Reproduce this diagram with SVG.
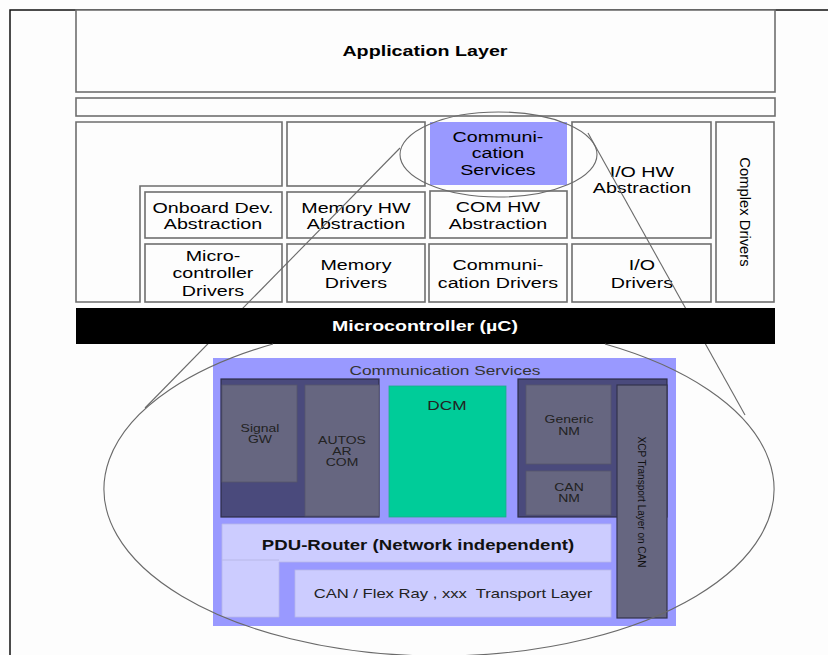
<svg xmlns="http://www.w3.org/2000/svg" width="828" height="655" viewBox="0 0 828 655">
<style>
text{font-family:"Liberation Sans",Arial,sans-serif;text-anchor:middle}
.sx{transform-box:fill-box;transform-origin:center;transform:scaleX(1.33)}
.box{fill:#fdfdfd;stroke:#6e6e6e;stroke-width:1.6}
.t14{font-size:14.8px;fill:#000}
.dark{fill:#4a4a7c;stroke:#2e2e48;stroke-width:1.2}
.gray{fill:#666680;stroke:#55556a;stroke-width:0.8}
.lav{fill:#ccccff;stroke:#b8b8e8;stroke-width:0.8}
.it{fill:#222;font-size:10.5px}
.thin{fill:none;stroke:#6a6a6a;stroke-width:1.1}
</style>
<rect width="828" height="655" fill="#fdfdfd"/>
<path d="M10,655 V10 H828" fill="none" stroke="#111" stroke-width="1.5"/>

<g id="app"><rect class="box" x="76" y="10" width="699" height="82"/><text class="t14 sx" x="425" y="56" font-weight="bold" font-size="16">Application Layer</text></g>
<g id="rte"><rect class="box" x="76" y="98" width="699" height="18"/></g>
<g id="services"><path class="box" d="M76,122 H282 V186 H140 V302 H76 Z"/></g>
<g id="memservices"><rect class="box" x="287" y="122" width="138" height="64"/></g>
<g id="comservices"><rect x="430" y="122" width="137" height="63" fill="#9999ff"/>
<text class="t14 sx" x="498" y="142">Communi-</text><text class="t14 sx" x="498" y="158">cation</text><text class="t14 sx" x="498" y="175">Services</text></g>
<g id="iohw"><rect class="box" x="572" y="122" width="139" height="116"/><text class="t14 sx" x="642" y="177">I/O HW</text><text class="t14 sx" x="642" y="193">Abstraction</text></g>
<g id="complex"><rect class="box" x="716" y="122" width="58" height="180"/><text class="t14" font-size="14" transform="translate(740,212) rotate(90)">Complex Drivers</text></g>
<g id="onboard"><rect class="box" x="145" y="192" width="137" height="46"/><text class="t14 sx" x="213" y="213">Onboard Dev.</text><text class="t14 sx" x="213" y="229">Abstraction</text></g>
<g id="memhw"><rect class="box" x="287" y="192" width="138" height="46"/><text class="t14 sx" x="356" y="213">Memory HW</text><text class="t14 sx" x="356" y="229">Abstraction</text></g>
<g id="comhw"><rect class="box" x="430" y="191" width="137" height="47"/><text class="t14 sx" x="498" y="212">COM HW</text><text class="t14 sx" x="498" y="229">Abstraction</text></g>
<g id="mcudrv"><rect class="box" x="145" y="244" width="137" height="58"/><text class="t14 sx" x="213" y="261">Micro-</text><text class="t14 sx" x="213" y="278">controller</text><text class="t14 sx" x="213" y="296">Drivers</text></g>
<g id="memdrv"><rect class="box" x="287" y="244" width="138" height="58"/><text class="t14 sx" x="356" y="270">Memory</text><text class="t14 sx" x="356" y="288">Drivers</text></g>
<g id="comdrv"><rect class="box" x="429" y="244" width="138" height="58"/><text class="t14 sx" x="498" y="270">Communi-</text><text class="t14 sx" x="498" y="288">cation Drivers</text></g>
<g id="iodrv"><rect class="box" x="572" y="244" width="139" height="58"/><text class="t14 sx" x="642" y="270">I/O</text><text class="t14 sx" x="642" y="288">Drivers</text></g>

<g id="connectors">
<ellipse class="thin" cx="498.5" cy="154.5" rx="98.5" ry="42.5"/>
<line class="thin" x1="400" y1="148" x2="145" y2="408"/>
<line class="thin" x1="588" y1="133" x2="745" y2="415"/>
</g>

<g id="mcu"><rect x="76" y="308" width="699" height="36" fill="#000"/><text class="sx" x="425" y="331" font-size="14.7" font-weight="bold" fill="#fff">Microcontroller (µC)</text></g>

<g id="comstack">
<rect x="213" y="358" width="463" height="268" fill="#9999ff"/>
<text class="sx" x="445" y="375" font-size="13" fill="#333">Communication Services</text>
</g>
<g id="comgroup"><rect class="dark" x="221" y="379" width="158" height="138"/></g>
<g id="signalgw"><rect class="gray" x="222" y="385" width="75" height="97"/><text class="it sx" font-size="10" x="260" y="432">Signal</text><text class="it sx" font-size="10" x="260" y="443">GW</text></g>
<g id="autosarcom"><rect class="gray" x="305" y="385" width="74" height="131"/><text class="it sx" x="342" y="444">AUTOS</text><text class="it sx" x="342" y="455">AR</text><text class="it sx" x="342" y="466">COM</text></g>
<g id="dcm"><rect x="389" y="386" width="117" height="131" fill="#00cc99" stroke="#22aa88" stroke-width="0.8"/><text class="sx" x="447" y="410" font-size="13" fill="#222">DCM</text></g>
<g id="nmgroup"><rect class="dark" x="518" y="379" width="149" height="138"/></g>
<g id="genericnm"><rect class="gray" x="526" y="385" width="85" height="79"/><text class="it sx" font-size="10" x="569" y="423">Generic</text><text class="it sx" font-size="10" x="569" y="435">NM</text></g>
<g id="cannm"><rect class="gray" x="526" y="471" width="85" height="44"/><text class="it sx" font-size="10" x="569" y="491">CAN</text><text class="it sx" font-size="10" x="569" y="502">NM</text></g>
<g id="pdurouter"><path class="lav" d="M222,524 H611 V562 H279 V617 H222 Z"/><line x1="222" y1="560" x2="279" y2="560" stroke="#b8b8e8" stroke-width="1"/><text class="sx" x="418" y="550" font-size="14" font-weight="bold" fill="#111">PDU-Router (Network independent)</text></g>
<g id="transport"><rect class="lav" x="295" y="570" width="316" height="47"/><text class="sx" x="453" y="598" font-size="12.5" fill="#222" xml:space="preserve">CAN / Flex Ray , xxx  Transport Layer</text></g>
<g id="xcp"><rect x="617" y="385" width="50" height="233" fill="#666680" stroke="#33334c" stroke-width="1.2"/><text x="0" y="0" font-size="10" fill="#111" transform="translate(638,502) rotate(90)">XCP Transport Layer on CAN</text></g>

<g id="bigellipse"><path class="thin" d="M273,344 A335,167 0 1 0 605,344"/></g>
</svg>
